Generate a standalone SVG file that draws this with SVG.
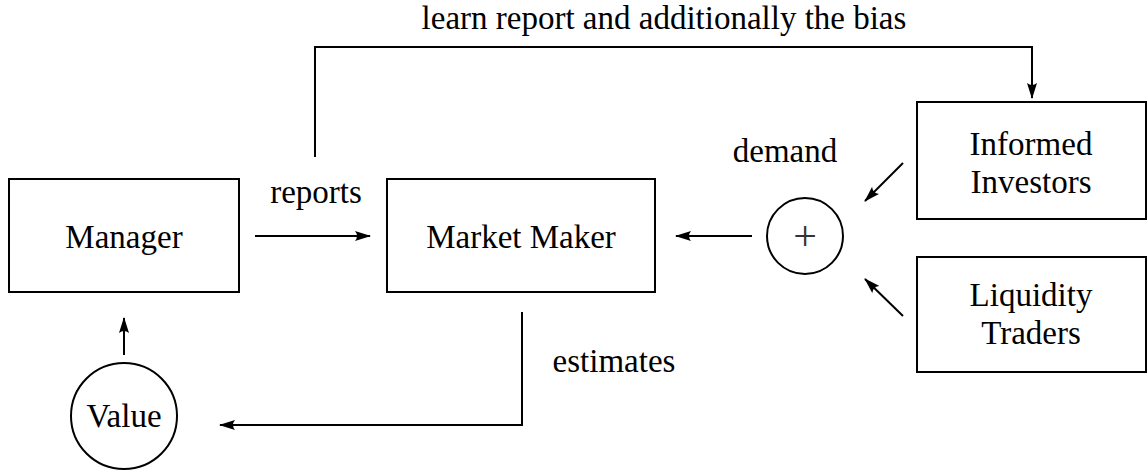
<svg xmlns="http://www.w3.org/2000/svg" width="1148" height="472" viewBox="0 0 1148 472">
<style>
.box{fill:#fff;stroke:#000;stroke-width:2}
.ln{fill:none;stroke:#000;stroke-width:2}
text{font-family:"Liberation Serif","Times New Roman",serif;font-size:33px;fill:#000;text-anchor:middle}
</style>
<defs>
<marker id="ah" viewBox="0 0 16 10" refX="15" refY="5" markerWidth="8" markerHeight="5" markerUnits="strokeWidth" orient="auto">
<path d="M0,0 Q4,5 0,10 L16,5 Z" fill="#000"/>
</marker>
</defs>
<rect width="1148" height="472" fill="#fff"/>
<g id="connectors">
<line class="ln" x1="255" y1="236" x2="370" y2="236" marker-end="url(#ah)"/>
<line class="ln" x1="752" y1="236" x2="676" y2="236" marker-end="url(#ah)"/>
<line class="ln" x1="903" y1="163" x2="865" y2="201" marker-end="url(#ah)"/>
<line class="ln" x1="903" y1="316" x2="865" y2="279" marker-end="url(#ah)"/>
<line class="ln" x1="124" y1="355" x2="124" y2="318" marker-end="url(#ah)"/>
<polyline class="ln" points="522,312 522,425 220,425" marker-end="url(#ah)"/>
<polyline class="ln" points="315,157 315,47 1032,47 1032,98" marker-end="url(#ah)"/>
<text x="664" y="29">learn report and additionally the bias</text>
<text x="316" y="203">reports</text>
<text x="785" y="162">demand</text>
<text x="614" y="372">estimates</text>
</g>
<g id="manager">
<rect class="box" x="9" y="179" width="230" height="113"/>
<text x="124" y="248">Manager</text>
</g>
<g id="marketmaker">
<rect class="box" x="387" y="179" width="268" height="113"/>
<text x="521" y="248">Market Maker</text>
</g>
<g id="informed">
<rect class="box" x="917" y="102" width="229" height="117"/>
<text x="1031" y="155">Informed</text>
<text x="1031" y="193">Investors</text>
</g>
<g id="liquidity">
<rect class="box" x="917" y="257" width="229" height="115"/>
<text x="1031" y="306">Liquidity</text>
<text x="1031" y="344">Traders</text>
</g>
<g id="sum">
<circle class="box" cx="805" cy="236" r="38"/>
<text x="805" y="250" style="font-size:42px;fill:#333">+</text>
</g>
<g id="value">
<circle class="box" cx="124" cy="416" r="53"/>
<text x="124" y="427">Value</text>
</g>
</svg>
